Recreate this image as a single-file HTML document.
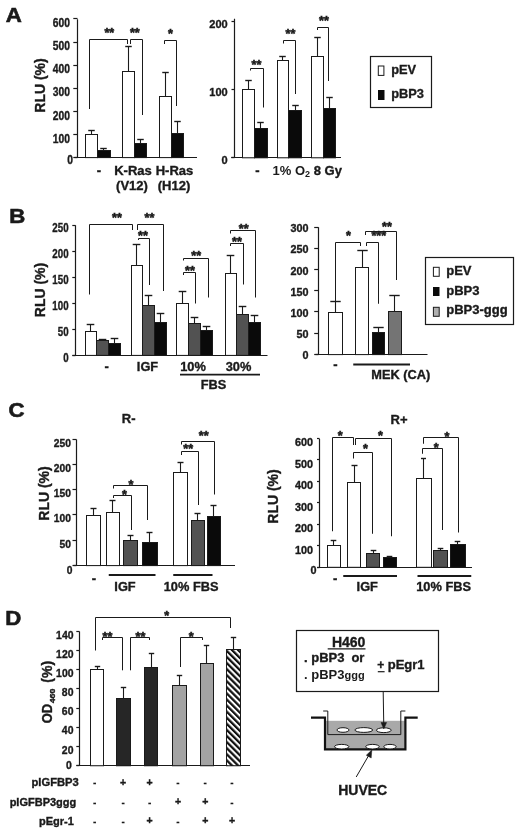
<!DOCTYPE html>
<html><head><meta charset="utf-8"><title>Figure</title>
<style>html,body{margin:0;padding:0;background:#fff}svg{display:block;will-change:transform;transform:translateZ(0)}text{font-family:"Liberation Sans",sans-serif}</style>
</head><body>
<svg width="520" height="833" viewBox="0 0 520 833" font-family="Liberation Sans, sans-serif" fill="#1a1a1a">
<defs><pattern id="hatch" width="4.3" height="4.3" patternUnits="userSpaceOnUse" patternTransform="rotate(-45)"><rect width="4.3" height="4.3" fill="#fff"/><rect width="2.25" height="4.3" fill="#111"/></pattern></defs>
<rect width="520" height="833" fill="#fff"/>
<text transform="translate(5.8,22.2) scale(1.14,1)" font-size="19.5" font-weight="bold" text-anchor="start" stroke="#1a1a1a" stroke-width="0.6" >A</text>
<text transform="translate(9.3,223.2) scale(1.14,1)" font-size="19.5" font-weight="bold" text-anchor="start" stroke="#1a1a1a" stroke-width="0.6" >B</text>
<text transform="translate(8.5,417.3) scale(1.14,1)" font-size="19.5" font-weight="bold" text-anchor="start" stroke="#1a1a1a" stroke-width="0.6" >C</text>
<text transform="translate(5.3,625.2) scale(1.14,1)" font-size="19.5" font-weight="bold" text-anchor="start" stroke="#1a1a1a" stroke-width="0.6" >D</text>
<path d="M77.5 19.2 V157.5 H197" stroke="#1a1a1a" stroke-width="1.2" fill="none" />
<line x1="74.5" y1="157.5" x2="77.5" y2="157.5" stroke="#1a1a1a" stroke-width="1.2"/>
<line x1="73.3" y1="157.5" x2="77.5" y2="157.5" stroke="#1a1a1a" stroke-width="1.2"/>
<text transform="translate(72.9,163.7) scale(0.86,1)" font-size="12" font-weight="bold" text-anchor="end" stroke="#1a1a1a" stroke-width="0.36" >0</text>
<line x1="73.3" y1="134.5" x2="77.5" y2="134.5" stroke="#1a1a1a" stroke-width="1.2"/>
<text transform="translate(70.0,142.63) scale(0.86,1)" font-size="12" font-weight="bold" text-anchor="end" stroke="#1a1a1a" stroke-width="0.36" >100</text>
<line x1="73.3" y1="111.5" x2="77.5" y2="111.5" stroke="#1a1a1a" stroke-width="1.2"/>
<text transform="translate(70.0,119.55999999999999) scale(0.86,1)" font-size="12" font-weight="bold" text-anchor="end" stroke="#1a1a1a" stroke-width="0.36" >200</text>
<line x1="73.3" y1="88.5" x2="77.5" y2="88.5" stroke="#1a1a1a" stroke-width="1.2"/>
<text transform="translate(70.0,96.48999999999998) scale(0.86,1)" font-size="12" font-weight="bold" text-anchor="end" stroke="#1a1a1a" stroke-width="0.36" >300</text>
<line x1="73.3" y1="65.5" x2="77.5" y2="65.5" stroke="#1a1a1a" stroke-width="1.2"/>
<text transform="translate(70.0,73.41999999999999) scale(0.86,1)" font-size="12" font-weight="bold" text-anchor="end" stroke="#1a1a1a" stroke-width="0.36" >400</text>
<line x1="73.3" y1="42.5" x2="77.5" y2="42.5" stroke="#1a1a1a" stroke-width="1.2"/>
<text transform="translate(70.0,50.35) scale(0.86,1)" font-size="12" font-weight="bold" text-anchor="end" stroke="#1a1a1a" stroke-width="0.36" >500</text>
<line x1="73.3" y1="18.5" x2="77.5" y2="18.5" stroke="#1a1a1a" stroke-width="1.2"/>
<text transform="translate(70.0,27.27999999999998) scale(0.86,1)" font-size="12" font-weight="bold" text-anchor="end" stroke="#1a1a1a" stroke-width="0.36" >600</text>
<text transform="translate(45,85.5) rotate(-90)" font-size="14" font-weight="bold" text-anchor="middle" stroke="#1a1a1a" stroke-width="0.36">RLU (%)</text>
<path d="M91.5 134.5 V130.5" stroke="#1a1a1a" stroke-width="1.1" fill="none" />
<path d="M88.25 130.5 H94.75" stroke="#1a1a1a" stroke-width="1.4" fill="none" />
<rect x="85.5" y="134.5" width="12.0" height="23.099999999999994" fill="#fff" stroke="#1a1a1a" stroke-width="1.0" />
<path d="M103.5 150.5 V148.5" stroke="#1a1a1a" stroke-width="1.1" fill="none" />
<path d="M100.25 148.5 H106.75" stroke="#1a1a1a" stroke-width="1.4" fill="none" />
<rect x="97.5" y="150.5" width="13.0" height="7.099999999999994" fill="#0a0a0a" stroke="#1a1a1a" stroke-width="1.0" />
<path d="M128.5 71.5 V46.5" stroke="#1a1a1a" stroke-width="1.1" fill="none" />
<path d="M125.25 46.5 H131.75" stroke="#1a1a1a" stroke-width="1.4" fill="none" />
<rect x="122.5" y="71.5" width="12.0" height="86.1" fill="#fff" stroke="#1a1a1a" stroke-width="1.0" />
<path d="M140.5 143.5 V139.5" stroke="#1a1a1a" stroke-width="1.1" fill="none" />
<path d="M137.25 139.5 H143.75" stroke="#1a1a1a" stroke-width="1.4" fill="none" />
<rect x="134.5" y="143.5" width="12.0" height="14.099999999999994" fill="#0a0a0a" stroke="#1a1a1a" stroke-width="1.0" />
<path d="M165.5 96.5 V72.5" stroke="#1a1a1a" stroke-width="1.1" fill="none" />
<path d="M162.25 72.5 H168.75" stroke="#1a1a1a" stroke-width="1.4" fill="none" />
<rect x="159.5" y="96.5" width="12.0" height="61.099999999999994" fill="#fff" stroke="#1a1a1a" stroke-width="1.0" />
<path d="M177.5 133.5 V121.5" stroke="#1a1a1a" stroke-width="1.1" fill="none" />
<path d="M174.25 121.5 H180.75" stroke="#1a1a1a" stroke-width="1.4" fill="none" />
<rect x="171.5" y="133.5" width="12.0" height="24.099999999999994" fill="#0a0a0a" stroke="#1a1a1a" stroke-width="1.0" />
<path d="M89.5 109 V39.5 H127.5 V44" stroke="#1a1a1a" stroke-width="1.0" fill="none" />
<path d="M130.5 44 V39.5 H142.5 V115" stroke="#1a1a1a" stroke-width="1.0" fill="none" />
<path d="M164.5 44 V40.5 H176.5 V106" stroke="#1a1a1a" stroke-width="1.0" fill="none" />
<text x="109.3" y="36.55200000000001" font-size="12.6" font-weight="bold" text-anchor="middle" stroke="#1a1a1a" stroke-width="0.55" >**</text>
<text x="134.8" y="36.55200000000001" font-size="12.6" font-weight="bold" text-anchor="middle" stroke="#1a1a1a" stroke-width="0.55" >**</text>
<text x="170.5" y="38.252" font-size="12.6" font-weight="bold" text-anchor="middle" stroke="#1a1a1a" stroke-width="0.55" >*</text>
<text x="99" y="175" font-size="13" font-weight="bold" text-anchor="middle" stroke="#1a1a1a" stroke-width="0.36" >-</text>
<text x="133" y="175" font-size="13" font-weight="bold" text-anchor="middle" stroke="#1a1a1a" stroke-width="0.36" >K-Ras</text>
<text x="174.5" y="175" font-size="13" font-weight="bold" text-anchor="middle" stroke="#1a1a1a" stroke-width="0.36" >H-Ras</text>
<text x="132" y="190" font-size="13" font-weight="bold" text-anchor="middle" stroke="#1a1a1a" stroke-width="0.36" >(V12)</text>
<text x="174" y="190" font-size="13" font-weight="bold" text-anchor="middle" stroke="#1a1a1a" stroke-width="0.36" >(H12)</text>
<path d="M234.5 18.7 V157.5 H341" stroke="#1a1a1a" stroke-width="1.2" fill="none" />
<line x1="231.2" y1="157.5" x2="234.5" y2="157.5" stroke="#1a1a1a" stroke-width="1.2"/>
<line x1="231.5" y1="157.5" x2="234.5" y2="157.5" stroke="#1a1a1a" stroke-width="1.2"/>
<text transform="translate(227.7,163.70000000000002) scale(0.96,1)" font-size="11.5" font-weight="bold" text-anchor="end" stroke="#1a1a1a" stroke-width="0.36" >0</text>
<line x1="231.5" y1="89.5" x2="234.5" y2="89.5" stroke="#1a1a1a" stroke-width="1.2"/>
<text transform="translate(227.7,95.70000000000002) scale(0.96,1)" font-size="11.5" font-weight="bold" text-anchor="end" stroke="#1a1a1a" stroke-width="0.36" >100</text>
<line x1="231.5" y1="21.5" x2="234.5" y2="21.5" stroke="#1a1a1a" stroke-width="1.2"/>
<text transform="translate(227.7,27.70000000000001) scale(0.96,1)" font-size="11.5" font-weight="bold" text-anchor="end" stroke="#1a1a1a" stroke-width="0.36" >200</text>
<path d="M248.5 89.5 V80.5" stroke="#1a1a1a" stroke-width="1.1" fill="none" />
<path d="M245.25 80.5 H251.75" stroke="#1a1a1a" stroke-width="1.4" fill="none" />
<rect x="242.5" y="89.5" width="12.0" height="68.30000000000001" fill="#fff" stroke="#1a1a1a" stroke-width="1.0" />
<path d="M260.5 128.5 V122.5" stroke="#1a1a1a" stroke-width="1.1" fill="none" />
<path d="M257.25 122.5 H263.75" stroke="#1a1a1a" stroke-width="1.4" fill="none" />
<rect x="254.5" y="128.5" width="13.0" height="29.30000000000001" fill="#0a0a0a" stroke="#1a1a1a" stroke-width="1.0" />
<path d="M282.5 60.5 V56.5" stroke="#1a1a1a" stroke-width="1.1" fill="none" />
<path d="M279.25 56.5 H285.75" stroke="#1a1a1a" stroke-width="1.4" fill="none" />
<rect x="277.5" y="60.5" width="11.0" height="97.30000000000001" fill="#fff" stroke="#1a1a1a" stroke-width="1.0" />
<path d="M295.5 110.5 V105.5" stroke="#1a1a1a" stroke-width="1.1" fill="none" />
<path d="M292.25 105.5 H298.75" stroke="#1a1a1a" stroke-width="1.4" fill="none" />
<rect x="288.5" y="110.5" width="13.0" height="47.30000000000001" fill="#0a0a0a" stroke="#1a1a1a" stroke-width="1.0" />
<path d="M317.5 56.5 V37.5" stroke="#1a1a1a" stroke-width="1.1" fill="none" />
<path d="M314.25 37.5 H320.75" stroke="#1a1a1a" stroke-width="1.4" fill="none" />
<rect x="311.5" y="56.5" width="12.0" height="101.30000000000001" fill="#fff" stroke="#1a1a1a" stroke-width="1.0" />
<path d="M329.5 108.5 V97.5" stroke="#1a1a1a" stroke-width="1.1" fill="none" />
<path d="M326.25 97.5 H332.75" stroke="#1a1a1a" stroke-width="1.4" fill="none" />
<rect x="323.5" y="108.5" width="12.0" height="49.30000000000001" fill="#0a0a0a" stroke="#1a1a1a" stroke-width="1.0" />
<path d="M250.5 70.5 V68.5 H263.5 V107.5" stroke="#1a1a1a" stroke-width="1.0" fill="none" />
<path d="M283.5 43.5 V40.5 H295.5 V94" stroke="#1a1a1a" stroke-width="1.0" fill="none" />
<path d="M317.5 30 V27.5 H328.5 V81" stroke="#1a1a1a" stroke-width="1.0" fill="none" />
<text x="256.5" y="69.352" font-size="12.6" font-weight="bold" text-anchor="middle" stroke="#1a1a1a" stroke-width="0.55" >**</text>
<text x="290.4" y="38.252" font-size="12.6" font-weight="bold" text-anchor="middle" stroke="#1a1a1a" stroke-width="0.55" >**</text>
<text x="324" y="25.252" font-size="12.6" font-weight="bold" text-anchor="middle" stroke="#1a1a1a" stroke-width="0.55" >**</text>
<text x="257.5" y="175" font-size="13" font-weight="bold" text-anchor="middle" stroke="#1a1a1a" stroke-width="0.36" >-</text>
<text x="272.5" y="175" font-size="13" font-weight="bold">1% O<tspan font-size="9" dy="2">2</tspan></text>
<text x="313.75" y="175" font-size="13" font-weight="bold" text-anchor="start" stroke="#1a1a1a" stroke-width="0.36" >8 Gy</text>
<rect x="370.5" y="56.5" width="61" height="51" fill="#fff" stroke="#1a1a1a" stroke-width="1.2"/>
<rect x="378.3" y="66" width="5.6" height="9.4" fill="#fff" stroke="#1a1a1a" stroke-width="1"/>
<rect x="378" y="90" width="6.5" height="10" fill="#0a0a0a"/>
<text x="391.25" y="74" font-size="12.8" font-weight="bold" text-anchor="start" stroke="#1a1a1a" stroke-width="0.36" >pEV</text>
<text x="391.25" y="98" font-size="12.8" font-weight="bold" text-anchor="start" stroke="#1a1a1a" stroke-width="0.36" >pBP3</text>
<path d="M75.5 225.2 V355.5 H267.5" stroke="#1a1a1a" stroke-width="1.2" fill="none" />
<line x1="72.5" y1="355.5" x2="75.5" y2="355.5" stroke="#1a1a1a" stroke-width="1.2"/>
<line x1="72.3" y1="355.5" x2="75.5" y2="355.5" stroke="#1a1a1a" stroke-width="1.2"/>
<text transform="translate(68.60000000000001,361.5) scale(0.78,1)" font-size="12.5" font-weight="bold" text-anchor="end" stroke="#1a1a1a" stroke-width="0.36" >0</text>
<line x1="72.3" y1="329.5" x2="75.5" y2="329.5" stroke="#1a1a1a" stroke-width="1.2"/>
<text transform="translate(68.60000000000001,335.5) scale(0.78,1)" font-size="12.5" font-weight="bold" text-anchor="end" stroke="#1a1a1a" stroke-width="0.36" >50</text>
<line x1="72.3" y1="303.5" x2="75.5" y2="303.5" stroke="#1a1a1a" stroke-width="1.2"/>
<text transform="translate(68.60000000000001,309.5) scale(0.78,1)" font-size="12.5" font-weight="bold" text-anchor="end" stroke="#1a1a1a" stroke-width="0.36" >100</text>
<line x1="72.3" y1="277.5" x2="75.5" y2="277.5" stroke="#1a1a1a" stroke-width="1.2"/>
<text transform="translate(68.60000000000001,283.5) scale(0.78,1)" font-size="12.5" font-weight="bold" text-anchor="end" stroke="#1a1a1a" stroke-width="0.36" >150</text>
<line x1="72.3" y1="251.5" x2="75.5" y2="251.5" stroke="#1a1a1a" stroke-width="1.2"/>
<text transform="translate(68.60000000000001,257.5) scale(0.78,1)" font-size="12.5" font-weight="bold" text-anchor="end" stroke="#1a1a1a" stroke-width="0.36" >200</text>
<line x1="72.3" y1="225.5" x2="75.5" y2="225.5" stroke="#1a1a1a" stroke-width="1.2"/>
<text transform="translate(68.60000000000001,231.49999999999997) scale(0.78,1)" font-size="12.5" font-weight="bold" text-anchor="end" stroke="#1a1a1a" stroke-width="0.36" >250</text>
<text transform="translate(45,290) rotate(-90)" font-size="14" font-weight="bold" text-anchor="middle" stroke="#1a1a1a" stroke-width="0.36">RLU (%)</text>
<path d="M90.5 331.5 V324.5" stroke="#1a1a1a" stroke-width="1.1" fill="none" />
<path d="M86.7 324.5 H94.3" stroke="#1a1a1a" stroke-width="1.4" fill="none" />
<rect x="85.5" y="331.5" width="11.0" height="23.899999999999977" fill="#fff" stroke="#1a1a1a" stroke-width="1.0" />
<path d="M102.5 340.5 V339.5" stroke="#1a1a1a" stroke-width="1.1" fill="none" />
<path d="M98.7 339.5 H106.3" stroke="#1a1a1a" stroke-width="1.4" fill="none" />
<rect x="96.5" y="340.5" width="12.0" height="14.899999999999977" fill="#525252" stroke="#1a1a1a" stroke-width="1.0" />
<path d="M114.5 343.5 V338.5" stroke="#1a1a1a" stroke-width="1.1" fill="none" />
<path d="M110.7 338.5 H118.3" stroke="#1a1a1a" stroke-width="1.4" fill="none" />
<rect x="108.5" y="343.5" width="12.0" height="11.899999999999977" fill="#0a0a0a" stroke="#1a1a1a" stroke-width="1.0" />
<path d="M136.5 265.5 V244.5" stroke="#1a1a1a" stroke-width="1.1" fill="none" />
<path d="M132.7 244.5 H140.3" stroke="#1a1a1a" stroke-width="1.4" fill="none" />
<rect x="131.5" y="265.5" width="11.0" height="89.89999999999998" fill="#fff" stroke="#1a1a1a" stroke-width="1.0" />
<path d="M148.5 305.5 V295.5" stroke="#1a1a1a" stroke-width="1.1" fill="none" />
<path d="M144.7 295.5 H152.3" stroke="#1a1a1a" stroke-width="1.4" fill="none" />
<rect x="142.5" y="305.5" width="12.0" height="49.89999999999998" fill="#525252" stroke="#1a1a1a" stroke-width="1.0" />
<path d="M160.5 322.5 V313.5" stroke="#1a1a1a" stroke-width="1.1" fill="none" />
<path d="M156.7 313.5 H164.3" stroke="#1a1a1a" stroke-width="1.4" fill="none" />
<rect x="154.5" y="322.5" width="12.0" height="32.89999999999998" fill="#0a0a0a" stroke="#1a1a1a" stroke-width="1.0" />
<path d="M182.5 303.5 V291.5" stroke="#1a1a1a" stroke-width="1.1" fill="none" />
<path d="M178.7 291.5 H186.3" stroke="#1a1a1a" stroke-width="1.4" fill="none" />
<rect x="176.5" y="303.5" width="12.0" height="51.89999999999998" fill="#fff" stroke="#1a1a1a" stroke-width="1.0" />
<path d="M194.5 323.5 V317.5" stroke="#1a1a1a" stroke-width="1.1" fill="none" />
<path d="M190.7 317.5 H198.3" stroke="#1a1a1a" stroke-width="1.4" fill="none" />
<rect x="188.5" y="323.5" width="12.0" height="31.899999999999977" fill="#525252" stroke="#1a1a1a" stroke-width="1.0" />
<path d="M206.5 330.5 V326.5" stroke="#1a1a1a" stroke-width="1.1" fill="none" />
<path d="M202.7 326.5 H210.3" stroke="#1a1a1a" stroke-width="1.4" fill="none" />
<rect x="200.5" y="330.5" width="12.0" height="24.899999999999977" fill="#0a0a0a" stroke="#1a1a1a" stroke-width="1.0" />
<path d="M230.5 273.5 V255.5" stroke="#1a1a1a" stroke-width="1.1" fill="none" />
<path d="M226.7 255.5 H234.3" stroke="#1a1a1a" stroke-width="1.4" fill="none" />
<rect x="225.5" y="273.5" width="11.0" height="81.89999999999998" fill="#fff" stroke="#1a1a1a" stroke-width="1.0" />
<path d="M242.5 314.5 V306.5" stroke="#1a1a1a" stroke-width="1.1" fill="none" />
<path d="M238.7 306.5 H246.3" stroke="#1a1a1a" stroke-width="1.4" fill="none" />
<rect x="236.5" y="314.5" width="12.0" height="40.89999999999998" fill="#525252" stroke="#1a1a1a" stroke-width="1.0" />
<path d="M254.5 322.5 V315.5" stroke="#1a1a1a" stroke-width="1.1" fill="none" />
<path d="M250.7 315.5 H258.3" stroke="#1a1a1a" stroke-width="1.4" fill="none" />
<rect x="248.5" y="322.5" width="12.0" height="32.89999999999998" fill="#0a0a0a" stroke="#1a1a1a" stroke-width="1.0" />
<path d="M89.5 294.5 V224.5 H132.5 V230" stroke="#1a1a1a" stroke-width="1.0" fill="none" />
<path d="M137.5 230 V224.5 H163.5 V291" stroke="#1a1a1a" stroke-width="1.0" fill="none" />
<path d="M138.5 240 V238.5 H149.5 V285" stroke="#1a1a1a" stroke-width="1.0" fill="none" />
<path d="M183.5 260.5 V258.5 H208.5 V297.5" stroke="#1a1a1a" stroke-width="1.0" fill="none" />
<path d="M183.5 275 V272.5 H195.5 V303.5" stroke="#1a1a1a" stroke-width="1.0" fill="none" />
<path d="M230.5 233.5 V230.5 H255.5 V297.5" stroke="#1a1a1a" stroke-width="1.0" fill="none" />
<path d="M230.5 246 V243.5 H243.5 V284.5" stroke="#1a1a1a" stroke-width="1.0" fill="none" />
<text x="117" y="221.75199999999998" font-size="12.6" font-weight="bold" text-anchor="middle" stroke="#1a1a1a" stroke-width="0.55" >**</text>
<text x="149.5" y="221.75199999999998" font-size="12.6" font-weight="bold" text-anchor="middle" stroke="#1a1a1a" stroke-width="0.55" >**</text>
<text x="143" y="239.50199999999998" font-size="12.6" font-weight="bold" text-anchor="middle" stroke="#1a1a1a" stroke-width="0.55" >**</text>
<text x="196.25" y="259.502" font-size="12.6" font-weight="bold" text-anchor="middle" stroke="#1a1a1a" stroke-width="0.55" >**</text>
<text x="190" y="274.502" font-size="12.6" font-weight="bold" text-anchor="middle" stroke="#1a1a1a" stroke-width="0.55" >**</text>
<text x="243.75" y="232.75199999999998" font-size="12.6" font-weight="bold" text-anchor="middle" stroke="#1a1a1a" stroke-width="0.55" >**</text>
<text x="237" y="246.25199999999998" font-size="12.6" font-weight="bold" text-anchor="middle" stroke="#1a1a1a" stroke-width="0.55" >**</text>
<text x="106.75" y="371.3" font-size="13" font-weight="bold" text-anchor="middle" stroke="#1a1a1a" stroke-width="0.36" >-</text>
<text x="147.5" y="371.3" font-size="12.8" font-weight="bold" text-anchor="middle" stroke="#1a1a1a" stroke-width="0.36" >IGF</text>
<text x="193" y="371.3" font-size="12.8" font-weight="bold" text-anchor="middle" stroke="#1a1a1a" stroke-width="0.36" >10%</text>
<text x="238.5" y="371.3" font-size="12.8" font-weight="bold" text-anchor="middle" stroke="#1a1a1a" stroke-width="0.36" >30%</text>
<line x1="180" y1="374.6" x2="260" y2="374.6" stroke="#1a1a1a" stroke-width="1.8"/>
<text x="213.5" y="388.8" font-size="12.8" font-weight="bold" text-anchor="middle" stroke="#1a1a1a" stroke-width="0.36" >FBS</text>
<path d="M318.5 227.2 V354.5 H427.5" stroke="#1a1a1a" stroke-width="1.2" fill="none" />
<line x1="315.5" y1="354.5" x2="318.5" y2="354.5" stroke="#1a1a1a" stroke-width="1.2"/>
<line x1="314.2" y1="354.5" x2="318.5" y2="354.5" stroke="#1a1a1a" stroke-width="1.2"/>
<text x="308.5" y="359.40000000000003" font-size="10.8" font-weight="bold" text-anchor="end" stroke="#1a1a1a" stroke-width="0.36" >0</text>
<line x1="314.2" y1="333.5" x2="318.5" y2="333.5" stroke="#1a1a1a" stroke-width="1.2"/>
<text x="308.5" y="338.18" font-size="10.8" font-weight="bold" text-anchor="end" stroke="#1a1a1a" stroke-width="0.36" >50</text>
<line x1="314.2" y1="311.5" x2="318.5" y2="311.5" stroke="#1a1a1a" stroke-width="1.2"/>
<text x="308.5" y="316.96000000000004" font-size="10.8" font-weight="bold" text-anchor="end" stroke="#1a1a1a" stroke-width="0.36" >100</text>
<line x1="314.2" y1="290.5" x2="318.5" y2="290.5" stroke="#1a1a1a" stroke-width="1.2"/>
<text x="308.5" y="295.74000000000007" font-size="10.8" font-weight="bold" text-anchor="end" stroke="#1a1a1a" stroke-width="0.36" >150</text>
<line x1="314.2" y1="269.5" x2="318.5" y2="269.5" stroke="#1a1a1a" stroke-width="1.2"/>
<text x="308.5" y="274.52000000000004" font-size="10.8" font-weight="bold" text-anchor="end" stroke="#1a1a1a" stroke-width="0.36" >200</text>
<line x1="314.2" y1="248.5" x2="318.5" y2="248.5" stroke="#1a1a1a" stroke-width="1.2"/>
<text x="308.5" y="253.30000000000004" font-size="10.8" font-weight="bold" text-anchor="end" stroke="#1a1a1a" stroke-width="0.36" >250</text>
<line x1="314.2" y1="227.5" x2="318.5" y2="227.5" stroke="#1a1a1a" stroke-width="1.2"/>
<text x="308.5" y="232.08000000000004" font-size="10.8" font-weight="bold" text-anchor="end" stroke="#1a1a1a" stroke-width="0.36" >300</text>
<path d="M335.5 312.5 V301.5" stroke="#1a1a1a" stroke-width="1.1" fill="none" />
<path d="M330.3 301.5 H340.7" stroke="#1a1a1a" stroke-width="1.4" fill="none" />
<rect x="328.5" y="312.5" width="14.0" height="42.10000000000002" fill="#fff" stroke="#1a1a1a" stroke-width="1.0" />
<path d="M362.5 267.5 V250.5" stroke="#1a1a1a" stroke-width="1.1" fill="none" />
<path d="M357.3 250.5 H367.7" stroke="#1a1a1a" stroke-width="1.4" fill="none" />
<rect x="355.5" y="267.5" width="13.0" height="87.10000000000002" fill="#fff" stroke="#1a1a1a" stroke-width="1.0" />
<path d="M378.5 332.5 V327.5" stroke="#1a1a1a" stroke-width="1.1" fill="none" />
<path d="M373.3 327.5 H383.7" stroke="#1a1a1a" stroke-width="1.4" fill="none" />
<rect x="372.5" y="332.5" width="12.0" height="22.100000000000023" fill="#0a0a0a" stroke="#1a1a1a" stroke-width="1.0" />
<path d="M394.5 311.5 V295.5" stroke="#1a1a1a" stroke-width="1.1" fill="none" />
<path d="M389.3 295.5 H399.7" stroke="#1a1a1a" stroke-width="1.4" fill="none" />
<rect x="388.5" y="311.5" width="13.0" height="43.10000000000002" fill="#747474" stroke="#1a1a1a" stroke-width="1.0" />
<path d="M335.5 301 V242.5 H360.5 V246" stroke="#1a1a1a" stroke-width="1.0" fill="none" />
<path d="M366.5 246 V242.5 H378.5 V303.75" stroke="#1a1a1a" stroke-width="1.0" fill="none" />
<path d="M365.5 235 V231.5 H396.5 V280" stroke="#1a1a1a" stroke-width="1.0" fill="none" />
<text x="348.5" y="240.25199999999998" font-size="12.6" font-weight="bold" text-anchor="middle" stroke="#1a1a1a" stroke-width="0.55" >*</text>
<text x="378.75" y="240.25199999999998" font-size="12.6" font-weight="bold" text-anchor="middle" stroke="#1a1a1a" stroke-width="0.55" >***</text>
<text x="387" y="231.25199999999998" font-size="12.6" font-weight="bold" text-anchor="middle" stroke="#1a1a1a" stroke-width="0.55" >**</text>
<text x="335.4" y="369" font-size="13" font-weight="bold" text-anchor="middle" stroke="#1a1a1a" stroke-width="0.36" >-</text>
<line x1="353.25" y1="364.5" x2="410" y2="364.5" stroke="#1a1a1a" stroke-width="1.8"/>
<text x="371.25" y="378.5" font-size="12.8" font-weight="bold" text-anchor="start" stroke="#1a1a1a" stroke-width="0.36" >MEK (CA)</text>
<rect x="425.5" y="257.5" width="88" height="67" fill="#fff" stroke="#1a1a1a" stroke-width="1.2"/>
<rect x="433.4" y="267.3" width="5.8" height="9" fill="#fff" stroke="#1a1a1a" stroke-width="1"/>
<rect x="433" y="287" width="6.5" height="9" fill="#0a0a0a"/>
<rect x="433.4" y="307.3" width="5.8" height="9" fill="#b0b0b0" stroke="#1a1a1a" stroke-width="1"/>
<text x="446.25" y="275" font-size="13" font-weight="bold" text-anchor="start" stroke="#1a1a1a" stroke-width="0.36" >pEV</text>
<text x="446.25" y="294.5" font-size="13" font-weight="bold" text-anchor="start" stroke="#1a1a1a" stroke-width="0.36" >pBP3</text>
<text x="446.25" y="313.75" font-size="13" font-weight="bold" text-anchor="start" stroke="#1a1a1a" stroke-width="0.36" >pBP3-ggg</text>
<path d="M76.5 439.4 V565.5 H235" stroke="#1a1a1a" stroke-width="1.2" fill="none" />
<line x1="73.5" y1="565.5" x2="76.5" y2="565.5" stroke="#1a1a1a" stroke-width="1.2"/>
<line x1="72.5" y1="565.5" x2="76.5" y2="565.5" stroke="#1a1a1a" stroke-width="1.2"/>
<text transform="translate(72.39999999999999,573.5) scale(0.92,1)" font-size="11.2" font-weight="bold" text-anchor="end" stroke="#1a1a1a" stroke-width="0.36" >0</text>
<line x1="72.5" y1="540.5" x2="76.5" y2="540.5" stroke="#1a1a1a" stroke-width="1.2"/>
<text transform="translate(71.0,547.68) scale(0.92,1)" font-size="11.2" font-weight="bold" text-anchor="end" stroke="#1a1a1a" stroke-width="0.36" >50</text>
<line x1="72.5" y1="514.5" x2="76.5" y2="514.5" stroke="#1a1a1a" stroke-width="1.2"/>
<text transform="translate(71.0,522.46) scale(0.92,1)" font-size="11.2" font-weight="bold" text-anchor="end" stroke="#1a1a1a" stroke-width="0.36" >100</text>
<line x1="72.5" y1="489.5" x2="76.5" y2="489.5" stroke="#1a1a1a" stroke-width="1.2"/>
<text transform="translate(71.0,497.24000000000007) scale(0.92,1)" font-size="11.2" font-weight="bold" text-anchor="end" stroke="#1a1a1a" stroke-width="0.36" >150</text>
<line x1="72.5" y1="464.5" x2="76.5" y2="464.5" stroke="#1a1a1a" stroke-width="1.2"/>
<text transform="translate(71.0,472.02000000000004) scale(0.92,1)" font-size="11.2" font-weight="bold" text-anchor="end" stroke="#1a1a1a" stroke-width="0.36" >200</text>
<line x1="72.5" y1="439.5" x2="76.5" y2="439.5" stroke="#1a1a1a" stroke-width="1.2"/>
<text transform="translate(71.0,446.8) scale(0.92,1)" font-size="11.2" font-weight="bold" text-anchor="end" stroke="#1a1a1a" stroke-width="0.36" >250</text>
<text transform="translate(49,493.5) rotate(-90)" font-size="14" font-weight="bold" text-anchor="middle" stroke="#1a1a1a" stroke-width="0.36">RLU (%)</text>
<text x="121.75" y="422.5" font-size="13" font-weight="bold" text-anchor="start" stroke="#1a1a1a" stroke-width="0.36" >R-</text>
<path d="M93.5 515.5 V508.5" stroke="#1a1a1a" stroke-width="1.1" fill="none" />
<path d="M90.5 508.5 H96.5" stroke="#1a1a1a" stroke-width="1.4" fill="none" />
<rect x="86.5" y="515.5" width="14.0" height="50.10000000000002" fill="#fff" stroke="#1a1a1a" stroke-width="1.0" />
<path d="M112.5 512.5 V500.5" stroke="#1a1a1a" stroke-width="1.1" fill="none" />
<path d="M109.5 500.5 H115.5" stroke="#1a1a1a" stroke-width="1.4" fill="none" />
<rect x="106.5" y="512.5" width="13.0" height="53.10000000000002" fill="#fff" stroke="#1a1a1a" stroke-width="1.0" />
<path d="M130.5 540.5 V535.5" stroke="#1a1a1a" stroke-width="1.1" fill="none" />
<path d="M127.5 535.5 H133.5" stroke="#1a1a1a" stroke-width="1.4" fill="none" />
<rect x="123.5" y="540.5" width="14.0" height="25.100000000000023" fill="#525252" stroke="#1a1a1a" stroke-width="1.0" />
<path d="M149.5 542.5 V532.5" stroke="#1a1a1a" stroke-width="1.1" fill="none" />
<path d="M146.5 532.5 H152.5" stroke="#1a1a1a" stroke-width="1.4" fill="none" />
<rect x="142.5" y="542.5" width="15.0" height="23.100000000000023" fill="#0a0a0a" stroke="#1a1a1a" stroke-width="1.0" />
<path d="M180.5 472.5 V462.5" stroke="#1a1a1a" stroke-width="1.1" fill="none" />
<path d="M177.5 462.5 H183.5" stroke="#1a1a1a" stroke-width="1.4" fill="none" />
<rect x="173.5" y="472.5" width="14.0" height="93.10000000000002" fill="#fff" stroke="#1a1a1a" stroke-width="1.0" />
<path d="M197.5 520.5 V513.5" stroke="#1a1a1a" stroke-width="1.1" fill="none" />
<path d="M194.5 513.5 H200.5" stroke="#1a1a1a" stroke-width="1.4" fill="none" />
<rect x="191.5" y="520.5" width="13.0" height="45.10000000000002" fill="#525252" stroke="#1a1a1a" stroke-width="1.0" />
<path d="M213.5 516.5 V505.5" stroke="#1a1a1a" stroke-width="1.1" fill="none" />
<path d="M210.5 505.5 H216.5" stroke="#1a1a1a" stroke-width="1.4" fill="none" />
<rect x="207.5" y="516.5" width="13.0" height="49.10000000000002" fill="#0a0a0a" stroke="#1a1a1a" stroke-width="1.0" />
<path d="M113.5 488.5 V485.5 H147.5 V520" stroke="#1a1a1a" stroke-width="1.0" fill="none" />
<path d="M113.5 498 V495.5 H131.5 V530" stroke="#1a1a1a" stroke-width="1.0" fill="none" />
<path d="M181.5 444.5 V441.5 H214.5 V494.5" stroke="#1a1a1a" stroke-width="1.0" fill="none" />
<path d="M181.5 455 V451.5 H198.5 V505" stroke="#1a1a1a" stroke-width="1.0" fill="none" />
<text x="131" y="488.752" font-size="12.6" font-weight="bold" text-anchor="middle" stroke="#1a1a1a" stroke-width="0.55" >*</text>
<text x="124.5" y="498.752" font-size="12.6" font-weight="bold" text-anchor="middle" stroke="#1a1a1a" stroke-width="0.55" >*</text>
<text x="203.75" y="440.002" font-size="12.6" font-weight="bold" text-anchor="middle" stroke="#1a1a1a" stroke-width="0.55" >**</text>
<text x="188.25" y="452.752" font-size="12.6" font-weight="bold" text-anchor="middle" stroke="#1a1a1a" stroke-width="0.55" >**</text>
<text x="94" y="583" font-size="13" font-weight="bold" text-anchor="middle" stroke="#1a1a1a" stroke-width="0.36" >-</text>
<line x1="108.75" y1="575" x2="155.5" y2="575" stroke="#1a1a1a" stroke-width="1.8"/>
<line x1="173.25" y1="575" x2="212.5" y2="575" stroke="#1a1a1a" stroke-width="1.8"/>
<text x="125" y="591.2" font-size="12.8" font-weight="bold" text-anchor="middle" stroke="#1a1a1a" stroke-width="0.36" >IGF</text>
<text x="163.75" y="591.2" font-size="12.8" font-weight="bold" text-anchor="start" stroke="#1a1a1a" stroke-width="0.36" >10% FBS</text>
<path d="M319.5 438.8 V567.5 H472" stroke="#1a1a1a" stroke-width="1.2" fill="none" />
<line x1="317.0" y1="567.5" x2="319.5" y2="567.5" stroke="#1a1a1a" stroke-width="1.2"/>
<line x1="317.0" y1="567.5" x2="319.5" y2="567.5" stroke="#1a1a1a" stroke-width="1.2"/>
<text x="316.5" y="574.4499999999999" font-size="10.8" font-weight="bold" text-anchor="end" stroke="#1a1a1a" stroke-width="0.36" >0</text>
<line x1="317.0" y1="545.5" x2="319.5" y2="545.5" stroke="#1a1a1a" stroke-width="1.2"/>
<text x="313.09999999999997" y="553.53" font-size="10.8" font-weight="bold" text-anchor="end" stroke="#1a1a1a" stroke-width="0.36" >100</text>
<line x1="317.0" y1="524.5" x2="319.5" y2="524.5" stroke="#1a1a1a" stroke-width="1.2"/>
<text x="313.09999999999997" y="532.1099999999999" font-size="10.8" font-weight="bold" text-anchor="end" stroke="#1a1a1a" stroke-width="0.36" >200</text>
<line x1="317.0" y1="502.5" x2="319.5" y2="502.5" stroke="#1a1a1a" stroke-width="1.2"/>
<text x="313.09999999999997" y="510.68999999999994" font-size="10.8" font-weight="bold" text-anchor="end" stroke="#1a1a1a" stroke-width="0.36" >300</text>
<line x1="317.0" y1="481.5" x2="319.5" y2="481.5" stroke="#1a1a1a" stroke-width="1.2"/>
<text x="313.09999999999997" y="489.2699999999999" font-size="10.8" font-weight="bold" text-anchor="end" stroke="#1a1a1a" stroke-width="0.36" >400</text>
<line x1="317.0" y1="459.5" x2="319.5" y2="459.5" stroke="#1a1a1a" stroke-width="1.2"/>
<text x="313.09999999999997" y="467.8499999999999" font-size="10.8" font-weight="bold" text-anchor="end" stroke="#1a1a1a" stroke-width="0.36" >500</text>
<line x1="317.0" y1="438.5" x2="319.5" y2="438.5" stroke="#1a1a1a" stroke-width="1.2"/>
<text x="313.09999999999997" y="446.42999999999995" font-size="10.8" font-weight="bold" text-anchor="end" stroke="#1a1a1a" stroke-width="0.36" >600</text>
<text transform="translate(278,496.5) rotate(-90)" font-size="14" font-weight="bold" text-anchor="middle" stroke="#1a1a1a" stroke-width="0.36">RLU (%)</text>
<text x="390.5" y="423.75" font-size="13" font-weight="bold" text-anchor="start" stroke="#1a1a1a" stroke-width="0.36" >R+</text>
<path d="M333.5 545.5 V540.5" stroke="#1a1a1a" stroke-width="1.1" fill="none" />
<path d="M330.7 540.5 H336.3" stroke="#1a1a1a" stroke-width="1.4" fill="none" />
<rect x="327.5" y="545.5" width="13.0" height="21.799999999999955" fill="#fff" stroke="#1a1a1a" stroke-width="1.0" />
<path d="M354.5 482.5 V465.5" stroke="#1a1a1a" stroke-width="1.1" fill="none" />
<path d="M351.5 465.5 H357.5" stroke="#1a1a1a" stroke-width="1.4" fill="none" />
<rect x="347.5" y="482.5" width="13.0" height="84.79999999999995" fill="#fff" stroke="#1a1a1a" stroke-width="1.0" />
<path d="M373.5 553.5 V550.5" stroke="#1a1a1a" stroke-width="1.1" fill="none" />
<path d="M370.7 550.5 H376.3" stroke="#1a1a1a" stroke-width="1.4" fill="none" />
<rect x="366.5" y="553.5" width="13.0" height="13.799999999999955" fill="#525252" stroke="#1a1a1a" stroke-width="1.0" />
<path d="M389.5 557.5 V556.5" stroke="#1a1a1a" stroke-width="1.1" fill="none" />
<path d="M386.7 556.5 H392.3" stroke="#1a1a1a" stroke-width="1.4" fill="none" />
<rect x="383.5" y="557.5" width="13.0" height="9.799999999999955" fill="#0a0a0a" stroke="#1a1a1a" stroke-width="1.0" />
<path d="M423.5 478.5 V458.5" stroke="#1a1a1a" stroke-width="1.1" fill="none" />
<path d="M421.0 458.5 H426.0" stroke="#1a1a1a" stroke-width="1.4" fill="none" />
<rect x="416.5" y="478.5" width="15.0" height="88.79999999999995" fill="#fff" stroke="#1a1a1a" stroke-width="1.0" />
<path d="M440.5 550.5 V548.5" stroke="#1a1a1a" stroke-width="1.1" fill="none" />
<path d="M437.7 548.5 H443.3" stroke="#1a1a1a" stroke-width="1.4" fill="none" />
<rect x="433.5" y="550.5" width="14.0" height="16.799999999999955" fill="#525252" stroke="#1a1a1a" stroke-width="1.0" />
<path d="M457.5 544.5 V541.5" stroke="#1a1a1a" stroke-width="1.1" fill="none" />
<path d="M454.7 541.5 H460.3" stroke="#1a1a1a" stroke-width="1.4" fill="none" />
<rect x="450.5" y="544.5" width="15.0" height="22.799999999999955" fill="#0a0a0a" stroke="#1a1a1a" stroke-width="1.0" />
<path d="M332.5 531.25 V437.5 H353.5 V445" stroke="#1a1a1a" stroke-width="1.0" fill="none" />
<path d="M355.5 445 V438.5 H391.5 V536.25" stroke="#1a1a1a" stroke-width="1.0" fill="none" />
<path d="M353.5 458.5 V452.5 H372.5 V533.75" stroke="#1a1a1a" stroke-width="1.0" fill="none" />
<path d="M423.5 443.75 V437.5 H458.5 V532.5" stroke="#1a1a1a" stroke-width="1.0" fill="none" />
<path d="M422.5 453.75 V448.5 H442.5 V530" stroke="#1a1a1a" stroke-width="1.0" fill="none" />
<text x="340.25" y="439.502" font-size="12.6" font-weight="bold" text-anchor="middle" stroke="#1a1a1a" stroke-width="0.55" >*</text>
<text x="380.5" y="439.502" font-size="12.6" font-weight="bold" text-anchor="middle" stroke="#1a1a1a" stroke-width="0.55" >*</text>
<text x="365.5" y="452.752" font-size="12.6" font-weight="bold" text-anchor="middle" stroke="#1a1a1a" stroke-width="0.55" >*</text>
<text x="447" y="440.752" font-size="12.6" font-weight="bold" text-anchor="middle" stroke="#1a1a1a" stroke-width="0.55" >*</text>
<text x="436.25" y="451.502" font-size="12.6" font-weight="bold" text-anchor="middle" stroke="#1a1a1a" stroke-width="0.55" >*</text>
<text x="335.25" y="583" font-size="13" font-weight="bold" text-anchor="middle" stroke="#1a1a1a" stroke-width="0.36" >-</text>
<line x1="343.25" y1="576" x2="397" y2="576" stroke="#1a1a1a" stroke-width="1.8"/>
<line x1="417.5" y1="576" x2="471.25" y2="576" stroke="#1a1a1a" stroke-width="1.8"/>
<text x="367.25" y="590.5" font-size="12.8" font-weight="bold" text-anchor="middle" stroke="#1a1a1a" stroke-width="0.36" >IGF</text>
<text x="416.25" y="591.2" font-size="12.8" font-weight="bold" text-anchor="start" stroke="#1a1a1a" stroke-width="0.36" >10% FBS</text>
<path d="M79.5 631.5 V765.5 H250" stroke="#1a1a1a" stroke-width="1.2" fill="none" />
<line x1="76.5" y1="765.5" x2="79.5" y2="765.5" stroke="#1a1a1a" stroke-width="1.2"/>
<line x1="76.3" y1="765.5" x2="79.5" y2="765.5" stroke="#1a1a1a" stroke-width="1.2"/>
<text transform="translate(71.7,769.25) scale(0.95,1)" font-size="11" font-weight="bold" text-anchor="end" stroke="#1a1a1a" stroke-width="0.36" >0</text>
<line x1="76.3" y1="746.5" x2="79.5" y2="746.5" stroke="#1a1a1a" stroke-width="1.2"/>
<text transform="translate(73.5,753.5) scale(0.95,1)" font-size="11" font-weight="bold" text-anchor="end" stroke="#1a1a1a" stroke-width="0.36" >20</text>
<line x1="76.3" y1="727.5" x2="79.5" y2="727.5" stroke="#1a1a1a" stroke-width="1.2"/>
<text transform="translate(73.5,734.35) scale(0.95,1)" font-size="11" font-weight="bold" text-anchor="end" stroke="#1a1a1a" stroke-width="0.36" >40</text>
<line x1="76.3" y1="708.5" x2="79.5" y2="708.5" stroke="#1a1a1a" stroke-width="1.2"/>
<text transform="translate(73.5,715.1999999999999) scale(0.95,1)" font-size="11" font-weight="bold" text-anchor="end" stroke="#1a1a1a" stroke-width="0.36" >60</text>
<line x1="76.3" y1="688.5" x2="79.5" y2="688.5" stroke="#1a1a1a" stroke-width="1.2"/>
<text transform="translate(73.5,696.05) scale(0.95,1)" font-size="11" font-weight="bold" text-anchor="end" stroke="#1a1a1a" stroke-width="0.36" >80</text>
<line x1="76.3" y1="669.5" x2="79.5" y2="669.5" stroke="#1a1a1a" stroke-width="1.2"/>
<text transform="translate(73.5,676.9) scale(0.95,1)" font-size="11" font-weight="bold" text-anchor="end" stroke="#1a1a1a" stroke-width="0.36" >100</text>
<line x1="76.3" y1="650.5" x2="79.5" y2="650.5" stroke="#1a1a1a" stroke-width="1.2"/>
<text transform="translate(73.5,657.75) scale(0.95,1)" font-size="11" font-weight="bold" text-anchor="end" stroke="#1a1a1a" stroke-width="0.36" >120</text>
<line x1="76.3" y1="631.5" x2="79.5" y2="631.5" stroke="#1a1a1a" stroke-width="1.2"/>
<text transform="translate(73.5,638.6) scale(0.95,1)" font-size="11" font-weight="bold" text-anchor="end" stroke="#1a1a1a" stroke-width="0.36" >140</text>
<g transform="translate(52,723.3) rotate(-90)" font-weight="bold" stroke="#1a1a1a" stroke-width="0.36"><text transform="scale(0.92,1)" font-size="14">OD</text><text transform="translate(20,2.9) scale(1.38,1)" font-size="6.4">460</text><text x="40.6" font-size="14">(%)</text></g>
<path d="M97.5 669.5 V666.5" stroke="#1a1a1a" stroke-width="1.1" fill="none" />
<path d="M94.8 666.5 H100.2" stroke="#1a1a1a" stroke-width="1.4" fill="none" />
<rect x="90.5" y="669.5" width="13.0" height="96.25" fill="#fff" stroke="#1a1a1a" stroke-width="1.0" />
<path d="M123.5 698.5 V687.5" stroke="#1a1a1a" stroke-width="1.1" fill="none" />
<path d="M120.8 687.5 H126.2" stroke="#1a1a1a" stroke-width="1.4" fill="none" />
<rect x="116.5" y="698.5" width="14.0" height="67.25" fill="#262626" stroke="#1a1a1a" stroke-width="1.0" />
<path d="M151.5 667.5 V653.5" stroke="#1a1a1a" stroke-width="1.1" fill="none" />
<path d="M148.8 653.5 H154.2" stroke="#1a1a1a" stroke-width="1.4" fill="none" />
<rect x="144.5" y="667.5" width="13.0" height="98.25" fill="#262626" stroke="#1a1a1a" stroke-width="1.0" />
<path d="M179.5 685.5 V675.5" stroke="#1a1a1a" stroke-width="1.1" fill="none" />
<path d="M176.8 675.5 H182.2" stroke="#1a1a1a" stroke-width="1.4" fill="none" />
<rect x="172.5" y="685.5" width="14.0" height="80.25" fill="#a3a3a3" stroke="#1a1a1a" stroke-width="1.0" />
<path d="M206.5 663.5 V645.5" stroke="#1a1a1a" stroke-width="1.1" fill="none" />
<path d="M203.8 645.5 H209.2" stroke="#1a1a1a" stroke-width="1.4" fill="none" />
<rect x="200.5" y="663.5" width="13.0" height="102.25" fill="#a3a3a3" stroke="#1a1a1a" stroke-width="1.0" />
<path d="M233.5 649.5 V637.5" stroke="#1a1a1a" stroke-width="1.1" fill="none" />
<path d="M230.8 637.5 H236.2" stroke="#1a1a1a" stroke-width="1.4" fill="none" />
<rect x="226.5" y="649.5" width="14.0" height="116.25" fill="url(#hatch)" stroke="#1a1a1a" stroke-width="1.0" />
<path d="M95.5 650.5 V617.5 H230.5 V628" stroke="#1a1a1a" stroke-width="1.0" fill="none" />
<path d="M102.5 640 V637.5 H122.5 V670.3" stroke="#1a1a1a" stroke-width="1.0" fill="none" />
<path d="M130.5 670.3 V637.5 H149.5 V640" stroke="#1a1a1a" stroke-width="1.0" fill="none" />
<path d="M180.5 667 V637.5 H202.5 V640" stroke="#1a1a1a" stroke-width="1.0" fill="none" />
<text x="166.6" y="620.052" font-size="12.6" font-weight="bold" text-anchor="middle" stroke="#1a1a1a" stroke-width="0.55" >*</text>
<text x="107.5" y="640.552" font-size="12.6" font-weight="bold" text-anchor="middle" stroke="#1a1a1a" stroke-width="0.55" >**</text>
<text x="140.5" y="640.552" font-size="12.6" font-weight="bold" text-anchor="middle" stroke="#1a1a1a" stroke-width="0.55" >**</text>
<text x="191.1" y="640.552" font-size="12.6" font-weight="bold" text-anchor="middle" stroke="#1a1a1a" stroke-width="0.55" >*</text>
<text x="78.75" y="785.75" font-size="11.2" font-weight="bold" text-anchor="end" stroke="#1a1a1a" stroke-width="0.36" >pIGFBP3</text>
<text x="76.25" y="805.5" font-size="11" font-weight="bold" text-anchor="end" stroke="#1a1a1a" stroke-width="0.36" >pIGFBP3ggg</text>
<text x="73.75" y="824.5" font-size="11" font-weight="bold" text-anchor="end" stroke="#1a1a1a" stroke-width="0.36" >pEgr-1</text>
<text x="94.7" y="786.0999999999999" font-size="10" font-weight="bold" text-anchor="middle" stroke="#1a1a1a" stroke-width="0.15" >-</text>
<text x="123.1" y="785.5" font-size="10.5" font-weight="bold" text-anchor="middle" stroke="#1a1a1a" stroke-width="0.36" >+</text>
<text x="149.6" y="785.5" font-size="10.5" font-weight="bold" text-anchor="middle" stroke="#1a1a1a" stroke-width="0.36" >+</text>
<text x="178" y="786.0999999999999" font-size="10" font-weight="bold" text-anchor="middle" stroke="#1a1a1a" stroke-width="0.15" >-</text>
<text x="205.2" y="786.0999999999999" font-size="10" font-weight="bold" text-anchor="middle" stroke="#1a1a1a" stroke-width="0.15" >-</text>
<text x="232" y="786.0999999999999" font-size="10" font-weight="bold" text-anchor="middle" stroke="#1a1a1a" stroke-width="0.15" >-</text>
<text x="94.7" y="805.5999999999999" font-size="10" font-weight="bold" text-anchor="middle" stroke="#1a1a1a" stroke-width="0.15" >-</text>
<text x="123.1" y="805.5999999999999" font-size="10" font-weight="bold" text-anchor="middle" stroke="#1a1a1a" stroke-width="0.15" >-</text>
<text x="149.6" y="805.5999999999999" font-size="10" font-weight="bold" text-anchor="middle" stroke="#1a1a1a" stroke-width="0.15" >-</text>
<text x="178" y="805.0" font-size="10.5" font-weight="bold" text-anchor="middle" stroke="#1a1a1a" stroke-width="0.36" >+</text>
<text x="205.2" y="805.0" font-size="10.5" font-weight="bold" text-anchor="middle" stroke="#1a1a1a" stroke-width="0.36" >+</text>
<text x="232" y="805.5999999999999" font-size="10" font-weight="bold" text-anchor="middle" stroke="#1a1a1a" stroke-width="0.15" >-</text>
<text x="94.7" y="824.8" font-size="10" font-weight="bold" text-anchor="middle" stroke="#1a1a1a" stroke-width="0.15" >-</text>
<text x="123.1" y="824.8" font-size="10" font-weight="bold" text-anchor="middle" stroke="#1a1a1a" stroke-width="0.15" >-</text>
<text x="149.6" y="824.2" font-size="10.5" font-weight="bold" text-anchor="middle" stroke="#1a1a1a" stroke-width="0.36" >+</text>
<text x="178" y="824.8" font-size="10" font-weight="bold" text-anchor="middle" stroke="#1a1a1a" stroke-width="0.15" >-</text>
<text x="205.2" y="824.2" font-size="10.5" font-weight="bold" text-anchor="middle" stroke="#1a1a1a" stroke-width="0.36" >+</text>
<text x="232" y="824.2" font-size="10.5" font-weight="bold" text-anchor="middle" stroke="#1a1a1a" stroke-width="0.36" >+</text>
<rect x="296.5" y="630.5" width="142" height="61" fill="#fff" stroke="#1a1a1a" stroke-width="1.2"/>
<text x="331.9" y="647" font-size="14" font-weight="bold" text-anchor="start" stroke="#1a1a1a" stroke-width="0.36" >H460</text>
<line x1="327.7" y1="648.8" x2="365.5" y2="648.8" stroke="#1a1a1a" stroke-width="1.3"/>
<text x="304" y="662" font-size="13" font-weight="bold" text-anchor="start" stroke="#1a1a1a" stroke-width="0.36" >. pBP3</text>
<text x="351.4" y="662" font-size="13" font-weight="bold" text-anchor="start" stroke="#1a1a1a" stroke-width="0.36" >or</text>
<text x="304" y="678.5" font-size="13" font-weight="bold">. pBP3<tspan font-size="11">ggg</tspan></text>
<text x="377.3" y="669" font-size="12" font-weight="bold" text-anchor="start" stroke="#1a1a1a" stroke-width="0.36" >+</text>
<line x1="377.8" y1="671.7" x2="384.6" y2="671.7" stroke="#1a1a1a" stroke-width="1.2"/>
<text x="387.7" y="669.2" font-size="13" font-weight="bold" text-anchor="start" stroke="#1a1a1a" stroke-width="0.36" >pEgr1</text>
<rect x="325" y="720.8" width="80.4" height="28.6" fill="#a9a9a9"/>
<path d="M311 717.7 H325 V749.4 H405.4 V717.7 H417.7" stroke="#111" stroke-width="2.2" fill="none" />
<path d="M323.2 711 H327.8 V734.6 H400.8 V711 H405.4" stroke="#1a1a1a" stroke-width="1.0" fill="none" />
<ellipse cx="343" cy="730" rx="6" ry="2.3" fill="#fff" stroke="#1a1a1a" stroke-width="1"/>
<ellipse cx="363.8" cy="730" rx="8.9" ry="2.4" fill="#fff" stroke="#1a1a1a" stroke-width="1"/>
<ellipse cx="383.8" cy="730.2" rx="7.4" ry="2.4" fill="#fff" stroke="#1a1a1a" stroke-width="1"/>
<ellipse cx="341.7" cy="746.7" rx="7.2" ry="2.3" fill="#fff" stroke="#1a1a1a" stroke-width="1"/>
<ellipse cx="372.5" cy="746.7" rx="6.8" ry="2.3" fill="#fff" stroke="#1a1a1a" stroke-width="1"/>
<ellipse cx="390" cy="746.7" rx="6.2" ry="2.3" fill="#fff" stroke="#1a1a1a" stroke-width="1"/>
<line x1="383.2" y1="691.5" x2="383.8" y2="727" stroke="#1a1a1a" stroke-width="1.0"/>
<path d="M383.8 729 L381 722.5 L386.6 722.5 Z" stroke="#1a1a1a" stroke-width="0.5" fill="#1a1a1a" />
<line x1="356.2" y1="777" x2="371" y2="751.5" stroke="#1a1a1a" stroke-width="1.0"/>
<path d="M371.8 750 L366.3 755.2 L371.2 758 Z" stroke="#1a1a1a" stroke-width="0.5" fill="#1a1a1a" />
<text x="362.7" y="794.6" font-size="14" font-weight="bold" text-anchor="middle" stroke="#1a1a1a" stroke-width="0.36" >HUVEC</text>
</svg>
</body></html>
